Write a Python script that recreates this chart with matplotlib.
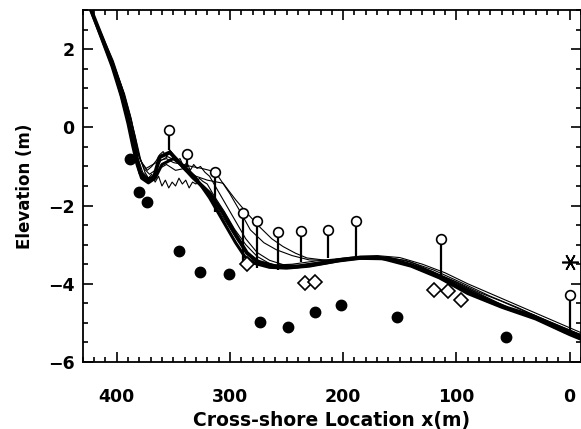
import numpy as np
import matplotlib.pyplot as plt
from matplotlib.ticker import MultipleLocator

# profiles (thick)
xA = [424, 413, 404, 395, 389.5, 385, 382, 379, 373, 367, 362, 353, 344, 333, 318, 306, 294, 285, 276, 259, 241, 218, 200, 185, 170, 159, 140, 121, 100, 74, 55, 32, 10, -10]
yA = [3.1, 2.30, 1.63, 0.87, 0.18, -0.33, -0.84, -1.17, -1.35, -1.27, -0.76, -0.64, -0.92, -1.27, -1.68, -2.19, -2.79, -3.21, -3.43, -3.56, -3.56, -3.47, -3.38, -3.33, -3.33, -3.37, -3.52, -3.73, -4.05, -4.41, -4.62, -4.83, -5.10, -5.35]
xB = [424, 413, 404, 396, 390, 386, 382, 378, 372, 366, 360, 350, 340, 330, 318, 305, 295, 287, 278, 265, 250, 230, 205, 185, 165, 140, 115, 90, 60, 30, 0, -10]
yB = [3.1, 2.25, 1.55, 0.80, 0.10, -0.45, -0.95, -1.30, -1.42, -1.30, -0.95, -0.80, -1.00, -1.30, -1.80, -2.45, -2.95, -3.30, -3.48, -3.58, -3.60, -3.55, -3.42, -3.35, -3.36, -3.55, -3.85, -4.25, -4.60, -4.90, -5.30, -5.42]

# profiles (thin)
xC = [424, 414, 406, 400, 393, 387, 383, 379, 374, 368, 362, 356, 350, 342, 334, 325, 318, 312, 300, 290, 282, 270, 259, 245, 230, 212, 195, 180, 160, 140, 120, 100, 80, 60, 40, 20, 0, -10]
yC = [3.1, 2.35, 1.85, 1.40, 0.85, 0.20, -0.40, -0.85, -1.05, -0.95, -0.85, -0.80, -0.90, -0.95, -1.00, -1.05, -1.10, -1.18, -1.70, -2.20, -2.62, -2.95, -3.13, -3.28, -3.39, -3.40, -3.37, -3.33, -3.32, -3.45, -3.70, -3.95, -4.22, -4.45, -4.70, -4.95, -5.22, -5.30]
xD = [424, 415, 408, 402, 396, 390, 385, 381, 377, 372, 367, 362, 356, 348, 340, 330, 320, 306, 295, 285, 274, 263, 253, 242, 232, 215, 195, 175, 155, 130, 105, 80, 55, 30, 5, -10]
yD = [3.1, 2.40, 1.95, 1.35, 0.75, 0.10, -0.45, -0.80, -1.15, -1.30, -1.25, -1.05, -0.95, -1.10, -1.05, -1.25, -1.35, -1.43, -1.85, -2.19, -2.54, -2.85, -3.05, -3.22, -3.34, -3.40, -3.38, -3.35, -3.40, -3.60, -3.90, -4.25, -4.60, -4.90, -5.25, -5.40]
xE = [424, 412, 403, 394, 388, 383, 379, 375, 372, 369, 366, 363, 360, 357, 354, 351, 348, 345, 342, 339, 336, 333, 330, 327, 324, 320, 314, 305, 296, 286, 276, 264, 250, 235, 220, 200, 180, 160, 135, 110, 85, 60, 35, 10, -10]
yE = [3.1, 2.28, 1.60, 0.90, 0.30, -0.30, -0.80, -1.15, -1.30, -1.20, -1.40, -1.25, -1.50, -1.35, -1.55, -1.40, -1.50, -1.30, -1.45, -1.35, -1.55, -1.40, -1.45, -1.30, -1.38, -1.45, -1.75, -2.15, -2.60, -3.00, -3.30, -3.50, -3.58, -3.55, -3.47, -3.38, -3.35, -3.38, -3.55, -3.85, -4.20, -4.55, -4.85, -5.15, -5.38]
xF = [424, 413, 404, 396, 390, 385, 381, 377, 373, 369, 365, 362, 359, 356, 353, 350, 347, 344, 341, 338, 335, 332, 329, 326, 322, 318, 312, 304, 295, 286, 276, 265, 252, 238, 222, 205, 185, 165, 145, 120, 95, 70, 45, 20, -10]
yF = [3.1, 2.32, 1.70, 1.00, 0.35, -0.25, -0.70, -0.95, -1.10, -1.00, -0.85, -0.70, -0.62, -0.75, -0.58, -0.70, -0.85, -0.80, -1.00, -0.90, -1.10, -0.95, -1.05, -1.00, -1.15, -1.25, -1.55, -1.95, -2.40, -2.85, -3.20, -3.40, -3.52, -3.53, -3.45, -3.37, -3.33, -3.32, -3.40, -3.65, -3.98, -4.32, -4.62, -4.95, -5.30]
xG = [424, 412, 403, 395, 389, 384, 380, 376, 371, 366, 361, 355, 348, 340, 330, 318, 305, 293, 283, 272, 260, 245, 225, 205, 185, 170, 150, 130, 110, 90, 70, 50, 30, 10, -10]
yG = [3.1, 2.30, 1.70, 1.00, 0.35, -0.20, -0.75, -1.05, -1.20, -1.10, -0.85, -0.75, -0.85, -1.10, -1.35, -1.75, -2.35, -2.90, -3.25, -3.45, -3.52, -3.50, -3.42, -3.36, -3.30, -3.28, -3.33, -3.50, -3.72, -4.00, -4.25, -4.50, -4.75, -5.00, -5.25]

# filled dots
dot_x = [388.3, 380.4, 373.6, 344.8, 326.6, 300.7, 273.1, 248.5, 225.3, 201.5, 152.7, 56.4]
dot_y = [-0.82, -1.65, -1.92, -3.15, -3.70, -3.75, -4.98, -5.10, -4.71, -4.54, -4.85, -5.36]

# open circles with stems
circ_x = [353.6, 338.3, 313.4, 288.4, 276.0, 257.5, 237.6, 213.0, 188.5, 113.7, -0.5]
circ_y = [-0.08, -0.67, -1.14, -2.20, -2.39, -2.68, -2.66, -2.62, -2.40, -2.86, -4.28]
stem_base = [-0.59, -1.02, -2.17, -3.46, -3.59, -3.64, -3.44, -3.34, -3.31, -3.82, -5.20]

# diamonds
dia_x = [284.5, 233.5, 225.3, 120.1, 107.8, 96.0]
dia_y = [-3.49, -3.97, -3.95, -4.17, -4.19, -4.41]

# asterisk
ast_x = [-0.5]
ast_y = [-3.45]

plt.rcParams['font.family'] = ['DejaVu Sans']
fig = plt.figure(figsize=(5.81, 4.29), dpi=100)
ax = fig.add_axes([0.1423, 0.1562, 0.8577, 0.8205])

for xs, ys in [(xC, yC), (xD, yD), (xE, yE), (xF, yF), (xG, yG)]:
    ax.plot(xs, ys, color='black', lw=0.8)
ax.plot(xB, yB, color='black', lw=2.2)
ax.plot(xA, yA, color='black', lw=2.8)

ax.vlines(circ_x, stem_base, circ_y, color='black', lw=1.6)
ax.plot(circ_x, circ_y, 'o', ms=7, mfc='white', mec='black', mew=1.2, ls='none')
ax.plot(dot_x, dot_y, 'o', ms=7.5, color='black', ls='none')
ax.plot(dia_x, dia_y, 'D', ms=7, mfc='white', mec='black', mew=1.2, ls='none')
ax.plot(ast_x, ast_y, marker=(6, 2, 90), ms=12, color='black', mew=1.2, ls='none', clip_on=False)

ax.set_xlim(430, -10)
ax.set_ylim(-6, 3)
ax.set_xticks([400, 300, 200, 100, 0])
ax.set_yticks([2, 0, -2, -4, -6])
ax.xaxis.set_minor_locator(MultipleLocator(10))
ax.yaxis.set_minor_locator(MultipleLocator(0.5))
ax.tick_params(which='both', direction='in', top=True, right=True, width=1.2)
ax.tick_params(which='major', length=7)
ax.tick_params(which='minor', length=3.5)
ax.tick_params(axis='x', which='major', pad=19, labelsize=12.5)
ax.tick_params(axis='y', which='major', pad=6, labelsize=12.5)
for lab in ax.get_xticklabels() + ax.get_yticklabels():
    lab.set_fontweight('bold')
for s in ax.spines.values():
    s.set_linewidth(1.3)

ax.set_xlabel('Cross-shore Location x(m)', fontsize=13.5, fontweight='bold', labelpad=3)
ax.set_ylabel('Elevation (m)', fontsize=12, fontweight='bold', labelpad=10)

fig.savefig('out.png', dpi=100)
